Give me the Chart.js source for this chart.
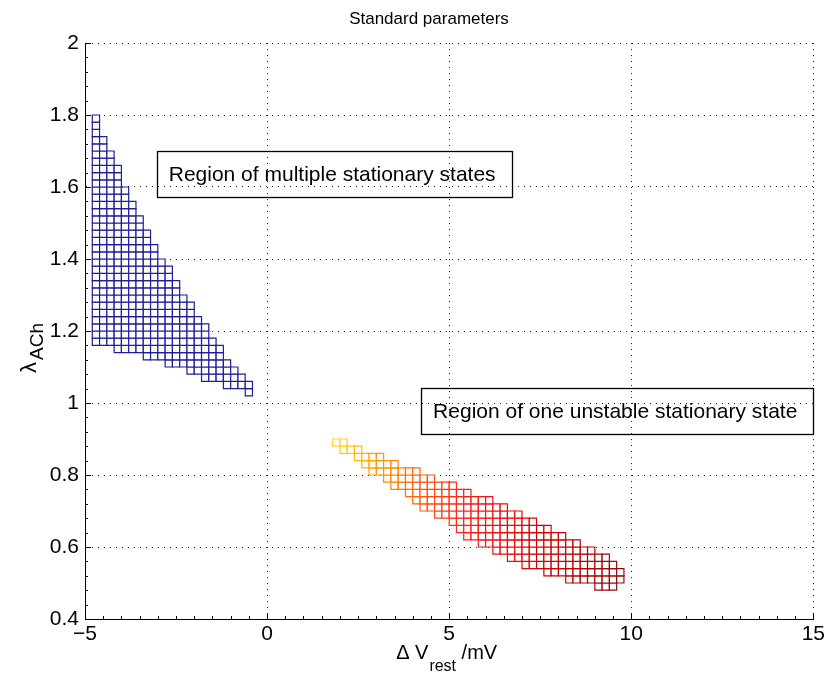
<!DOCTYPE html>
<html>
<head>
<meta charset="utf-8">
<script src="https://cdn.jsdelivr.net/npm/chart.js@4.4.0/dist/chart.umd.min.js"></script>
<style>
  html, body { margin: 0; padding: 0; background: #fff; }
  #chart { display: block; }
</style>
</head>
<body>
<canvas id="chart" width="828" height="676"></canvas>
<script>
// axis ticks
const xTicks = [-5, 0, 5, 10, 15];
const yTicks = [0.4, 0.6, 0.8, 1, 1.2, 1.4, 1.6, 1.8, 2];

// grid cell size of the scan (x in mV, y in lambda)
const CELL_W = 0.2;
const CELL_H = 0.02;

// region of multiple stationary states: column centre, lowest and highest cell
const blueX  = [-4.7, -4.5, -4.3, -4.1, -3.9, -3.7, -3.5, -3.3, -3.1, -2.9, -2.7,
                -2.5, -2.3, -2.1, -1.9, -1.7, -1.5, -1.3, -1.1, -0.9, -0.7, -0.5];
const blueLo = [1.17, 1.17, 1.17, 1.15, 1.15, 1.15, 1.15, 1.13, 1.13, 1.13, 1.11,
                1.11, 1.11, 1.09, 1.09, 1.07, 1.07, 1.07, 1.05, 1.05, 1.05, 1.03];
const blueHi = [1.79, 1.73, 1.69, 1.65, 1.59, 1.55, 1.51, 1.47, 1.43, 1.39, 1.37,
                1.33, 1.29, 1.27, 1.23, 1.21, 1.17, 1.15, 1.11, 1.09, 1.07, 1.05];

// region of one unstable stationary state
const redX  = [1.9, 2.1, 2.3, 2.5, 2.7, 2.9, 3.1, 3.3, 3.5, 3.7,
               3.9, 4.1, 4.3, 4.5, 4.7, 4.9, 5.1, 5.3, 5.5, 5.7,
               5.9, 6.1, 6.3, 6.5, 6.7, 6.9, 7.1, 7.3, 7.5, 7.7,
               7.9, 8.1, 8.3, 8.5, 8.7, 8.9, 9.1, 9.3, 9.5, 9.7];
const redLo = [0.89, 0.87, 0.87, 0.85, 0.83, 0.81, 0.81, 0.79, 0.77, 0.77,
               0.75, 0.73, 0.71, 0.71, 0.69, 0.69, 0.67, 0.65, 0.63, 0.63,
               0.61, 0.61, 0.59, 0.59, 0.57, 0.57, 0.55, 0.55, 0.55, 0.53,
               0.53, 0.53, 0.51, 0.51, 0.51, 0.51, 0.49, 0.49, 0.49, 0.51];
const redHi = [0.89, 0.89, 0.87, 0.87, 0.85, 0.85, 0.85, 0.83, 0.83, 0.81,
               0.81, 0.81, 0.79, 0.79, 0.77, 0.77, 0.77, 0.75, 0.75, 0.73,
               0.73, 0.73, 0.71, 0.71, 0.69, 0.69, 0.67, 0.67, 0.65, 0.65,
               0.63, 0.63, 0.61, 0.61, 0.59, 0.59, 0.57, 0.57, 0.55, 0.53];

const FONT = '"Liberation Sans", Arial, Helvetica, sans-serif';

// one point per scanned cell of a column
function cells(xs, lo, hi) {
    const pts = [];
    xs.forEach((x, i) => {
        const n = Math.round((hi[i] - lo[i]) / CELL_H);
        for (let k = 0; k <= n; k++) {
            pts.push({ x: x, y: +(lo[i] + k * CELL_H).toFixed(2) });
        }
    });
    return pts;
}

// square marker as big as one cell on the current scales
function cellRadius(ctx) {
    const s = ctx.chart.scales;
    const w = Math.abs(s.x.getPixelForValue(CELL_W) - s.x.getPixelForValue(0));
    const h = Math.abs(s.y.getPixelForValue(CELL_H) - s.y.getPixelForValue(0));
    return (w + h) / 2 / Math.SQRT2;
}

// yellow -> orange -> red -> dark red along the band
const heat = [
    [1.9, [255, 215, 30]],
    [2.7, [255, 175, 0]],
    [3.5, [255, 130, 0]],
    [4.5, [255, 80, 20]],
    [5.5, [250, 30, 30]],
    [7.5, [215, 0, 0]],
    [9.7, [145, 10, 10]]
];
function heatColor(x) {
    if (x <= heat[0][0]) return 'rgb(' + heat[0][1].join(',') + ')';
    for (let i = 1; i < heat.length; i++) {
        if (x <= heat[i][0]) {
            const t = (x - heat[i - 1][0]) / (heat[i][0] - heat[i - 1][0]);
            const c = heat[i - 1][1].map((a, j) => Math.round(a + (heat[i][1][j] - a) * t));
            return 'rgb(' + c.join(',') + ')';
        }
    }
    return 'rgb(' + heat[heat.length - 1][1].join(',') + ')';
}

const notes = [
    { text: 'Region of multiple stationary states', x: -3.03, y: 1.636 },
    { text: 'Region of one unstable stationary state', x: 4.23, y: 0.978 }
];

// MATLAB style extras: inward ticks, labels with subscripts, title, text boxes
const decor = {
    id: 'decor',
    afterDraw(chart) {
        const { ctx, chartArea: a, scales: { x, y } } = chart;
        ctx.save();

        ctx.strokeStyle = '#000';
        ctx.lineWidth = 1;
        ctx.beginPath();
        xTicks.forEach(v => {
            const px = Math.round(x.getPixelForValue(v)) + 0.5;
            ctx.moveTo(px, a.bottom); ctx.lineTo(px, a.bottom - 6);
        });
        yTicks.forEach(v => {
            const py = Math.round(y.getPixelForValue(v)) + 0.5;
            ctx.moveTo(a.left, py); ctx.lineTo(a.left + 6, py);
        });
        for (let v = -5; v <= 15; v += 0.5) {
            const px = Math.round(x.getPixelForValue(v)) + 0.5;
            ctx.moveTo(px, a.bottom); ctx.lineTo(px, a.bottom - 3);
        }
        for (let k = 0; k <= 40; k++) {
            const py = Math.round(y.getPixelForValue(0.4 + k * 0.04)) + 0.5;
            ctx.moveTo(a.left, py); ctx.lineTo(a.left + 3, py);
        }
        ctx.stroke();

        // text boxes
        ctx.fillStyle = '#000';
        ctx.textBaseline = 'middle';
        ctx.textAlign = 'left';
        ctx.font = '21px ' + FONT;
        notes.forEach(n => {
            const bx = x.getPixelForValue(n.x);
            const cy = y.getPixelForValue(n.y);
            const tw = ctx.measureText(n.text).width;
            ctx.fillText(n.text, bx + 12, cy + 1);
            ctx.lineWidth = 1.3;
            ctx.strokeRect(Math.round(bx) + 0.5, Math.round(cy - 23) + 0.5, Math.round(tw + 28), 46);
        });

        // title
        ctx.textAlign = 'center';
        ctx.font = '17px ' + FONT;
        ctx.fillText('Standard parameters', 429, 19);

        // x label: Delta V_rest /mV
        ctx.textAlign = 'left';
        ctx.textBaseline = 'alphabetic';
        const big = '20px ' + FONT, small = '16px ' + FONT;
        ctx.font = big;
        const w1 = ctx.measureText('\u0394 V').width;
        const w3 = ctx.measureText(' /mV').width;
        ctx.font = small;
        const w2 = ctx.measureText('rest').width;
        let sx = (a.left + a.right) / 2 - (w1 + w2 + w3) / 2 - 3;
        ctx.font = big;
        ctx.fillText('\u0394 V', sx, 659);
        ctx.font = small;
        ctx.fillText('rest', sx + w1 + 1, 671);
        ctx.font = big;
        ctx.fillText(' /mV', sx + w1 + w2 + 1, 659);

        // y label: lambda_ACh
        const bigY = '22px ' + FONT, smallY = '19px ' + FONT;
        ctx.translate(36, 349);
        ctx.rotate(-Math.PI / 2);
        ctx.font = bigY;
        const l1 = ctx.measureText('\u03bb').width;
        ctx.font = smallY;
        const l2 = ctx.measureText('ACh').width;
        const start = -(l1 + l2) / 2;
        ctx.font = bigY;
        ctx.fillText('\u03bb', start, 0);
        ctx.font = smallY;
        ctx.fillText('ACh', start + l1 + 2, 7);

        ctx.restore();
    }
};

const gridOpts = { color: 'rgba(0,0,0,0.9)', lineWidth: 1, drawTicks: false };
const borderOpts = { display: true, color: '#000', width: 1, dash: [1, 5] };
const tickFont = { family: FONT, size: 21 };

new Chart(document.getElementById('chart'), {
    type: 'scatter',
    data: {
        datasets: [
            {
                label: 'multiple stationary states',
                data: cells(blueX, blueLo, blueHi),
                pointStyle: 'rect',
                pointRadius: cellRadius,
                pointHoverRadius: cellRadius,
                pointBorderWidth: 1.2,
                pointBorderColor: '#1e1e98',
                pointBackgroundColor: '#ffffff'
            },
            {
                label: 'one unstable stationary state',
                data: cells(redX, redLo, redHi),
                pointStyle: 'rect',
                pointRadius: cellRadius,
                pointHoverRadius: cellRadius,
                pointBorderWidth: 1.2,
                pointBorderColor: ctx => heatColor(ctx.raw ? ctx.raw.x : 5),
                pointBackgroundColor: '#ffffff'
            }
        ]
    },
    options: {
        responsive: false,
        animation: false,
        devicePixelRatio: 1,
        events: [],
        layout: { padding: { left: 0, right: 13, top: 43, bottom: 0 } },
        plugins: {
            legend: { display: false },
            tooltip: { enabled: false },
            title: { display: false }
        },
        scales: {
            x: {
                type: 'linear',
                min: -5,
                max: 15,
                afterBuildTicks: s => { s.ticks = xTicks.map(v => ({ value: v })); },
                afterFit: s => { s.height = 57; },
                ticks: {
                    color: '#000',
                    font: tickFont,
                    padding: 3,
                    maxRotation: 0,
                    callback: v => v < 0 ? '\u2212' + Math.abs(v) : String(v)
                },
                grid: gridOpts,
                border: borderOpts
            },
            y: {
                type: 'linear',
                min: 0.4,
                max: 2,
                afterBuildTicks: s => { s.ticks = yTicks.map(v => ({ value: v })); },
                afterFit: s => { s.width = 85; },
                ticks: {
                    color: '#000',
                    font: tickFont,
                    padding: 6,
                    callback: v => String(Math.round(v * 10) / 10)
                },
                grid: gridOpts,
                border: borderOpts
            }
        }
    },
    plugins: [decor]
});
</script>
</body>
</html>
